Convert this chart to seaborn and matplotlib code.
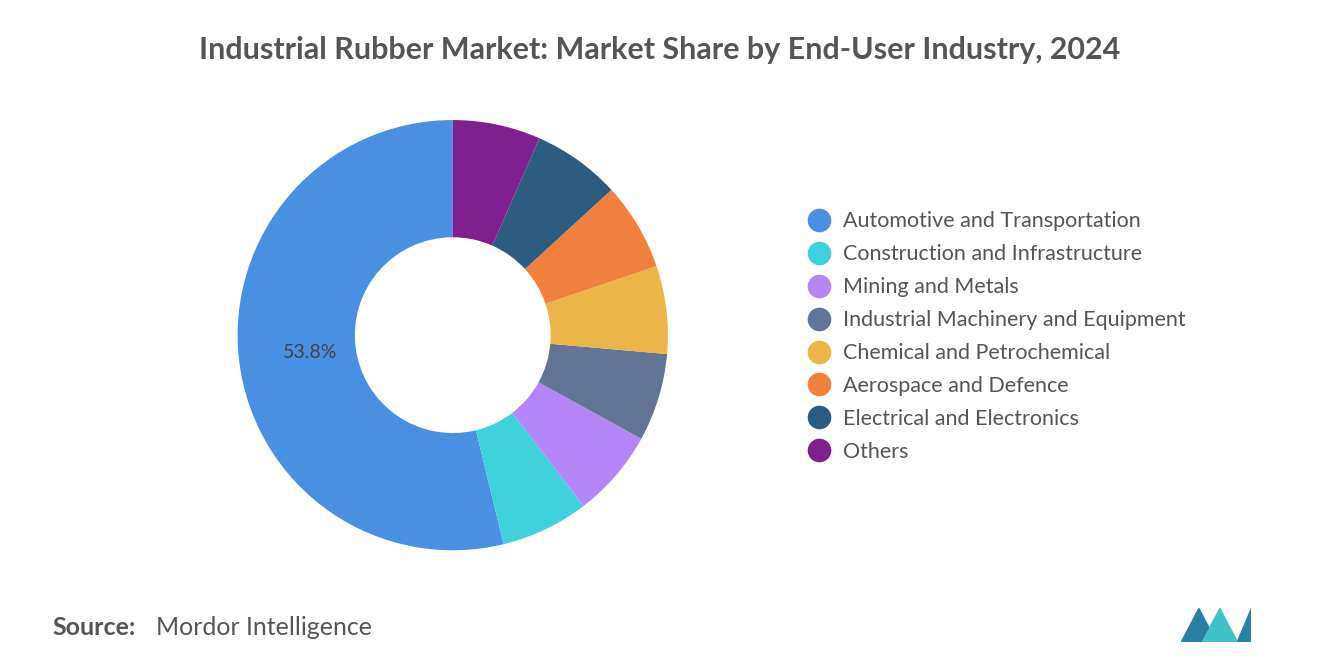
import matplotlib.pyplot as plt
import seaborn as sns
from matplotlib.lines import Line2D

sns.set_theme(style="white")
plt.rcParams["font.family"] = ["Lato", "DejaVu Sans"]

industries = [
    "Automotive and Transportation",
    "Construction and Infrastructure",
    "Mining and Metals",
    "Industrial Machinery and Equipment",
    "Chemical and Petrochemical",
    "Aerospace and Defence",
    "Electrical and Electronics",
    "Others",
]
shares = [53.8, 6.6, 6.6, 6.6, 6.6, 6.6, 6.6, 6.6]
colors = ["#4A90E2", "#3FD1DB", "#B385F5", "#627596",
          "#EBB547", "#F0803C", "#2C5C82", "#7E2090"]

fig = plt.figure(figsize=(13.2, 6.65), dpi=100)
ax = fig.add_axes([0.343 - 0.163, 0.496 - 0.3235, 0.326, 0.647])
wedges, texts, autotexts = ax.pie(
    shares, colors=colors, startangle=90, counterclock=True,
    wedgeprops=dict(width=0.545, linewidth=0),
    autopct=lambda p: f"{p:.1f}%" if p > 50 else "", pctdistance=0.67,
    textprops=dict(fontsize=14, color="#444444"),
)
ax.set_xlim(-1, 1)
ax.set_ylim(-1, 1)
ax.set_aspect("equal")

handles = [Line2D([], [], marker="o", linestyle="", markersize=16,
                  markerfacecolor=c, markeredgecolor=c) for c in colors]
fig.legend(handles, industries, loc="upper left", bbox_to_anchor=(0.598, 0.695),
           frameon=False, fontsize=15.5, labelcolor="#555555",
           handletextpad=0.1, labelspacing=0.6, borderaxespad=0)

fig.text(0.5, 0.925, "Industrial Rubber Market: Market Share by End-User Industry, 2024",
         ha="center", va="center", fontsize=22, fontweight="bold", color="#555555")
fig.text(0.04, 0.057, "Source:", ha="left", va="center", fontsize=18,
         fontweight="bold", color="#555555")
fig.text(0.118, 0.057, "Mordor Intelligence", ha="left", va="center",
         fontsize=18, color="#555555")

# simple logo
lax = fig.add_axes([0.895, 0.035, 0.053, 0.05])
lax.fill([0, 0.25, 0.5, 0.25], [0, 1, 0, 0], color="#2B7FA3")
lax.fill([0.3, 0.55, 0.8, 0.55], [0, 1, 0, 0], color="#3FC1C9")
lax.fill([0.8, 1.0, 1.0], [0, 1, 0], color="#2B7FA3")
lax.set_xlim(0, 1)
lax.set_ylim(0, 1)
lax.axis("off")

fig.savefig("out.png", dpi=100)
